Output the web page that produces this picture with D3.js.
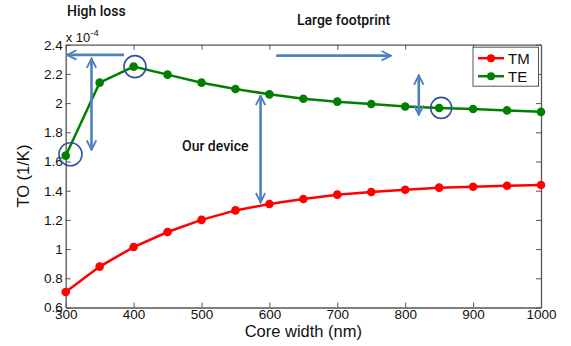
<!DOCTYPE html>
<html>
<head>
<meta charset="utf-8">
<script src="https://cdn.jsdelivr.net/npm/d3@7"></script>
<style>
  body { margin: 0; background: #fff; }
  text { font-family: "Liberation Sans", Arial, sans-serif; }
</style>
</head>
<body>
<div id="chart"></div>
<script>
// core width (nm)
var widths = [300, 350, 400, 450, 500, 550, 600, 650, 700, 750, 800, 850, 900, 950, 1000];
// thermo-optic coefficient, x 1e-4 1/K
var tm = [0.706, 0.88, 1.014, 1.117, 1.20, 1.265, 1.309, 1.343, 1.373, 1.391, 1.407, 1.421, 1.427, 1.434, 1.439];
var te = [1.64, 2.14, 2.25, 2.195, 2.14, 2.097, 2.06, 2.03, 2.01, 1.994, 1.977, 1.966, 1.96, 1.95, 1.94];
var xTicks = [300, 400, 500, 600, 700, 800, 900, 1000];
var yTicks = [0.6, 0.8, 1, 1.2, 1.4, 1.6, 1.8, 2, 2.2, 2.4];

var W = 571, H = 346;
var margin = {top: 44.7, right: 30, bottom: 38.5, left: 65.7};
var width = W - margin.left - margin.right,
    height = H - margin.top - margin.bottom;

var svg = d3.select("#chart").append("svg")
    .attr("width", W)
    .attr("height", H);

var g = svg.append("g")
    .attr("transform", "translate(" + margin.left + "," + margin.top + ")");

var x = d3.scaleLinear().domain([300, 1000]).range([0, width]);
var y = d3.scaleLinear().domain([0.6, 2.4]).range([height, 0]);

var axisColor = "#555";
var blue = "#4f81bd";

// box + inward ticks (matlab style)
function styleAxis(sel) {
    sel.select(".domain").attr("stroke", axisColor).attr("stroke-width", 1.3);
    sel.selectAll(".tick line").attr("stroke", axisColor).attr("stroke-width", 1);
    sel.selectAll(".tick text").attr("fill", "#111").style("font-size", "13.5px");
}

g.append("g")
    .attr("transform", "translate(0," + height + ")")
    .call(d3.axisBottom(x).tickValues(xTicks).tickSizeInner(-5).tickSizeOuter(0).tickPadding(3)
        .tickFormat(d3.format("d")))
    .call(styleAxis)
    .selectAll(".tick text").attr("dy", "0.65em");

g.append("g")
    .call(d3.axisTop(x).tickValues(xTicks).tickSizeInner(-5).tickSizeOuter(0).tickFormat(""))
    .call(styleAxis);

g.append("g")
    .call(d3.axisLeft(y).tickValues(yTicks).tickSizeInner(-5).tickSizeOuter(0).tickPadding(3)
        .tickFormat(function (d) { return d3.format("~g")(d); }))
    .call(styleAxis);

g.append("g")
    .attr("transform", "translate(" + width + ",0)")
    .call(d3.axisRight(y).tickValues(yTicks).tickSizeInner(-5).tickSizeOuter(0).tickFormat(""))
    .call(styleAxis);

// exponent marker
var expo = g.append("text")
    .attr("x", 0)
    .attr("y", -3)
    .attr("fill", "#111")
    .style("font-size", "13px");
expo.append("tspan").text("x 10");
expo.append("tspan").attr("dy", -6).style("font-size", "9.5px").text("-4");

// series
var series = [
    {name: "TM", values: tm, color: "#ff0000"},
    {name: "TE", values: te, color: "#008000"}
];

var line = d3.line()
    .x(function (d) { return x(d[0]); })
    .y(function (d) { return y(d[1]); });

series.forEach(function (s) {
    var pts = d3.zip(widths, s.values);
    g.append("path")
        .datum(pts)
        .attr("fill", "none")
        .attr("stroke", s.color)
        .attr("stroke-width", 2.5)
        .attr("d", line);
    g.selectAll(".pt-" + s.name)
        .data(pts)
        .enter().append("circle")
        .attr("cx", function (d) { return x(d[0]); })
        .attr("cy", function (d) { return y(d[1]); })
        .attr("r", 4.3)
        .attr("fill", s.color);
});

// legend
var lg = g.append("g").attr("transform", "translate(" + (width - 68) + ",2.5)");
lg.append("rect")
    .attr("width", 65.5).attr("height", 39)
    .attr("fill", "#fff")
    .attr("stroke", axisColor).attr("stroke-width", 1);
series.forEach(function (s, i) {
    var ly = 11 + i * 18;
    lg.append("line")
        .attr("x1", 5).attr("x2", 31).attr("y1", ly).attr("y2", ly)
        .attr("stroke", s.color).attr("stroke-width", 2.5);
    lg.append("circle").attr("cx", 18).attr("cy", ly).attr("r", 4).attr("fill", s.color);
    lg.append("text")
        .attr("x", 35).attr("y", ly).attr("dy", "0.36em")
        .attr("fill", "#111")
        .style("font-size", "15px")
        .text(s.name);
});

// axis labels
svg.append("text")
    .attr("x", margin.left + width / 2)
    .attr("y", 337)
    .attr("text-anchor", "middle")
    .attr("fill", "#111")
    .style("font-size", "16.5px")
    .text("Core width (nm)");

svg.append("text")
    .attr("transform", "translate(29," + (margin.top + height / 2) + ") rotate(-90)")
    .attr("text-anchor", "middle")
    .attr("fill", "#111")
    .style("font-size", "16.5px")
    .text("TO (1/K)");

// annotations
var defs = svg.append("defs");
defs.append("marker")
    .attr("id", "head")
    .attr("viewBox", "0 0 10 10")
    .attr("refX", 9).attr("refY", 5)
    .attr("markerWidth", 4.5).attr("markerHeight", 4.5)
    .attr("markerUnits", "strokeWidth")
    .attr("orient", "auto-start-reverse")
    .append("path")
    .attr("d", "M1,1 L9,5 L1,9")
    .attr("fill", "none")
    .attr("stroke", blue)
    .attr("stroke-width", 1.6);

function arrow(x1, y1, x2, y2, both) {
    var a = g.append("line")
        .attr("x1", x(x1)).attr("y1", y(y1))
        .attr("x2", x(x2)).attr("y2", y(y2))
        .attr("stroke", blue)
        .attr("stroke-width", 2.6)
        .attr("marker-end", "url(#head)");
    if (both) a.attr("marker-start", "url(#head)");
}

arrow(386, 2.33, 302, 2.33, false);
arrow(610, 2.325, 779, 2.325, false);
arrow(338, 2.305, 338, 1.68, true);
arrow(820, 2.19, 820, 1.92, true);
arrow(587, 2.05, 587, 1.32, true);

function ring(cx, cy, r) {
    g.append("circle")
        .attr("cx", x(cx)).attr("cy", y(cy))
        .attr("r", r)
        .attr("fill", "none")
        .attr("stroke", "#2f5597")
        .attr("stroke-width", 1.6);
}
ring(307, 1.65, 11.5);
ring(402, 2.25, 11);
ring(853, 1.967, 10.5);

function note(tx, ty, str) {
    svg.append("text")
        .attr("x", tx).attr("y", ty)
        .attr("fill", "#111")
        .style("font-size", "14px")
        .style("font-weight", "500")
        .style("font-family", "Roboto, sans-serif")
        .text(str);
}
note(67, 16, "High loss");
note(297, 25, "Large footprint");
note(182, 151, "Our device");
</script>
</body>
</html>
